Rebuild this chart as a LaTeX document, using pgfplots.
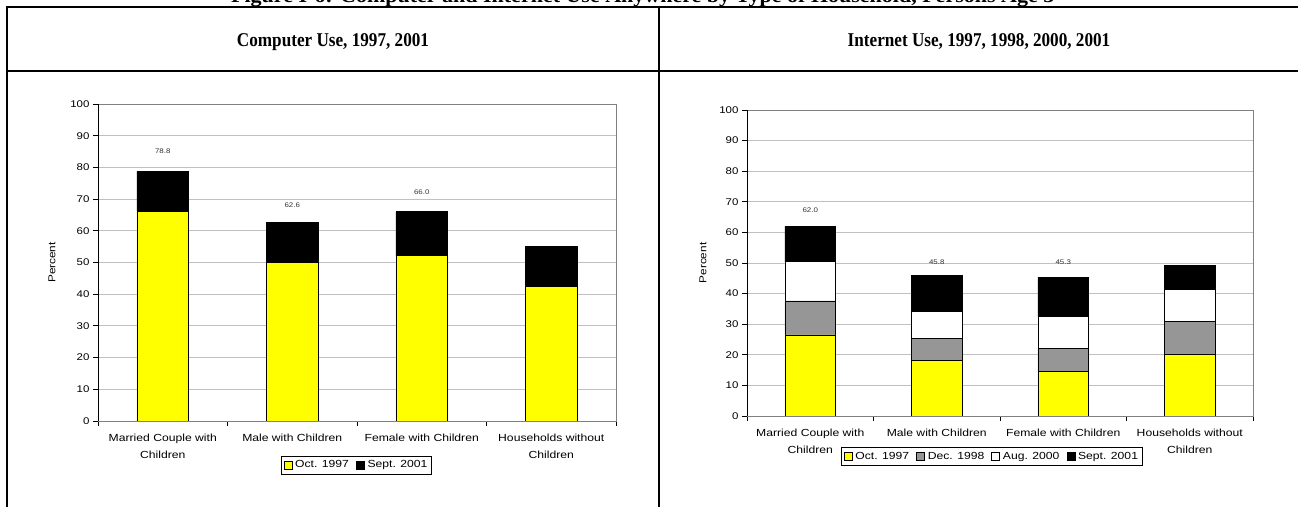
\documentclass[border=0pt]{standalone}
\usepackage{pgfplots}
\pgfplotsset{compat=1.18}
\usepackage{fontspec}
\setmainfont[FakeStretch=1.18]{Liberation Sans}
\newfontfamily\tnr[FakeStretch=0.88]{Liberation Serif}
\newfontfamily\tnrt[FakeStretch=1.1]{Liberation Serif}
\definecolor{xlyellow}{HTML}{FFFF00}
\definecolor{xlgray}{HTML}{969696}
\definecolor{gridgray}{HTML}{C0C0C0}
\definecolor{framegray}{HTML}{808080}
\definecolor{lbl}{HTML}{333333}

\pgfplotsset{
  xlchart/.style={
    scale only axis,
    ybar stacked,
    bar width=0.4,
    ymin=0, ymax=100, ytick={0,10,...,100},
    xmin=-0.5, xmax=3.5,
    xtick={0,1,2,3},
    xticklabels={{Married Couple with\\Children},{Male with Children},{Female with Children},{Households without\\Children}},
    xticklabel style={align=center, font=\fontsize{10.3}{16.3}\selectfont, yshift=-5pt},
    yticklabel style={font=\fontsize{9.7}{10}\selectfont},
    /pgf/number format/assume math mode=true,
    minor xtick={-0.5,0.5,1.5,2.5,3.5},
    xtick pos=bottom, ytick pos=left,
    tick align=outside,
    major tick length=5pt, minor tick length=5pt,
    tick style={black, line width=0.8pt},
    every major x tick/.append style={draw=none},
    axis line style={draw=framegray, line width=0.8pt},
    ymajorgrids,
    major grid style={gridgray, line width=0.8pt},
    ylabel={Percent},
    ylabel style={font=\fontsize{10}{11}\selectfont, anchor=center},
    legend columns=-1,
    legend style={draw=black, line width=0.8pt, font=\fontsize{10.3}{12}\selectfont,
      inner xsep=2pt, inner ysep=2.5pt, anchor=center,
      /tikz/every odd column/.append style={column sep=1pt},
      /tikz/every even column/.append style={column sep=5pt}},
    legend image code/.code={\draw[#1,draw=black,line width=0.6pt] (0pt,-4pt) rectangle (8pt,4pt);},
    every axis plot/.append style={draw=black, line width=0.7pt},
  }
}

\begin{document}
\begin{tikzpicture}[x=1pt,y=1pt]
\useasboundingbox (0,0) rectangle (1298,506);
\begin{scope}
\clip (0,0) rectangle (1298,506);
% figure title (cut off at the top, as in the source)
\node[font=\tnrt\bfseries\fontsize{20}{22}\selectfont, anchor=base] at (649,503.5)
  {Figure I-6: Computer and Internet Use Anywhere by Type of Household, Persons Age 3+};
% table frame
\draw[line width=2pt] (7,499) -- (1310,499);
\draw[line width=2pt] (7,435) -- (1310,435);
\draw[line width=2pt] (7,500) -- (7,-5);
\draw[line width=2pt] (659,500) -- (659,-5);
% headers
\node[font=\tnr\bfseries\fontsize{19.5}{22}\selectfont, anchor=base] at (333,459) {Computer Use, 1997, 2001};
\node[font=\tnr\bfseries\fontsize{19.5}{22}\selectfont, anchor=base] at (979,459) {Internet Use, 1997, 1998, 2000, 2001};

% ---------- Computer use ----------
\begin{axis}[xlchart,
  at={(98pt,85pt)}, anchor=south west,
  width=518pt, height=317pt,
  ylabel style={at={(axis description cs:-0.089,0.5)}},
  legend style={at={(0.499,-0.139)}},
]
\addplot[fill=xlyellow] coordinates {(0,66.2) (1,50.0) (2,52.1) (3,42.4)};
\addplot[fill=black] coordinates {(0,12.6) (1,12.6) (2,13.9) (3,12.8)};
\legend{Oct. 1997, Sept. 2001}
\draw[black, line width=0.9pt] (rel axis cs:0,1) -- (rel axis cs:0,0) -- (rel axis cs:1,0);
\node[font=\fontsize{6.7}{8}\selectfont, text=lbl] at (axis cs:0,85.0) {78.8};
\node[font=\fontsize{6.7}{8}\selectfont, text=lbl] at (axis cs:1,68.1) {62.6};
\node[font=\fontsize{6.7}{8}\selectfont, text=lbl] at (axis cs:2,72.1) {66.0};
\end{axis}

% ---------- Internet use ----------
\begin{axis}[xlchart,
  at={(747pt,90pt)}, anchor=south west,
  width=506pt, height=306pt,
  ylabel style={at={(axis description cs:-0.087,0.5)}},
  legend style={at={(0.484,-0.132)}},
]
\addplot[fill=xlyellow] coordinates {(0,26.5) (1,18.1) (2,14.6) (3,20.0)};
\addplot[fill=xlgray] coordinates {(0,11.1) (1,7.3) (2,7.6) (3,10.9)};
\addplot[fill=white] coordinates {(0,12.8) (1,8.8) (2,10.3) (3,10.6)};
\addplot[fill=black] coordinates {(0,11.6) (1,11.6) (2,12.8) (3,7.8)};
\legend{Oct. 1997, Dec. 1998, Aug. 2000, Sept. 2001}
\draw[black, line width=0.9pt] (rel axis cs:0,1) -- (rel axis cs:0,0) -- (rel axis cs:1,0);
\node[font=\fontsize{6.7}{8}\selectfont, text=lbl] at (axis cs:0,67.4) {62.0};
\node[font=\fontsize{6.7}{8}\selectfont, text=lbl] at (axis cs:1,50.4) {45.8};
\node[font=\fontsize{6.7}{8}\selectfont, text=lbl] at (axis cs:2,50.4) {45.3};
\end{axis}
\end{scope}
\end{tikzpicture}
\end{document}
